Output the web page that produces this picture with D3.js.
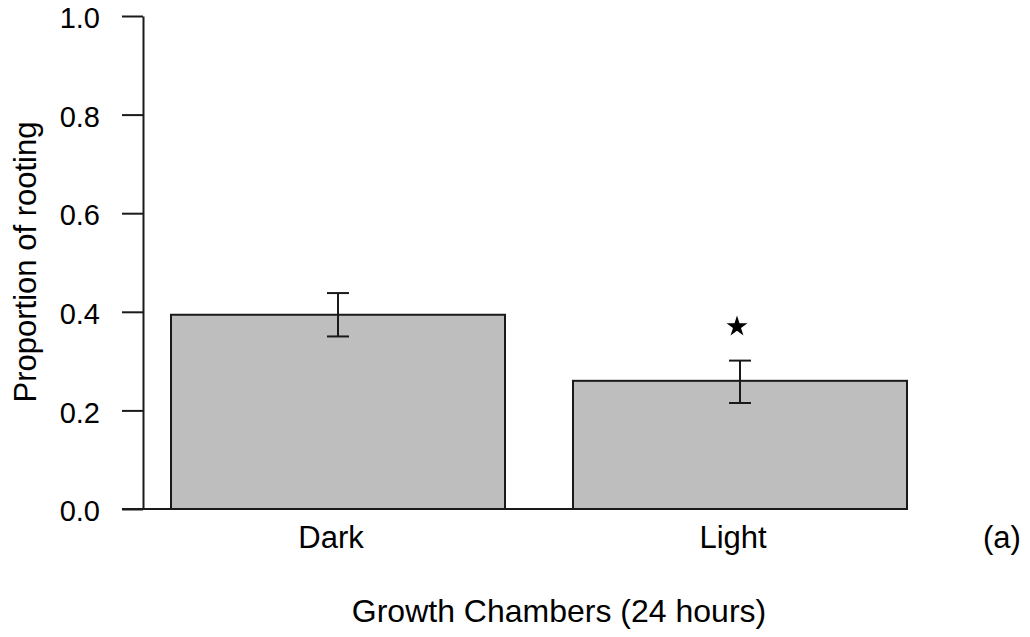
<!DOCTYPE html>
<html>
<head>
<meta charset="utf-8">
<script src="https://cdn.jsdelivr.net/npm/d3@7"></script>
<style>
  html, body { margin: 0; padding: 0; background: #fff; }
  svg { display: block; font-family: "Liberation Sans", Arial, sans-serif; }
</style>
</head>
<body>
<svg id="chart" width="1030" height="637"></svg>
<script>
const categories = ["Dark", "Light"];
const values = [0.394, 0.260];
const errLow = [0.350, 0.215];
const errHigh = [0.438, 0.301];
const significant = [false, true];
const yTicks = [0.0, 0.2, 0.4, 0.6, 0.8, 1.0];
const xTitle = "Growth Chambers (24 hours)";
const yTitle = "Proportion of rooting";
const panelLabel = "(a)";

const svg = d3.select("#chart");
const ink = "#1a1a1a";

const y = d3.scaleLinear().domain([0, 1]).range([509, 16]);
const x = d3.scaleBand().domain(categories).range([137, 941])
  .paddingInner(68 / 402).paddingOuter(34 / 402);

// bars
svg.append("g").selectAll("rect").data(categories).join("rect")
  .attr("x", d => x(d))
  .attr("y", (d, i) => y(values[i]))
  .attr("width", x.bandwidth())
  .attr("height", (d, i) => y(0) - y(values[i]))
  .attr("fill", "#bebebe")
  .attr("stroke", ink)
  .attr("stroke-width", 2);

// error bars
const eb = svg.append("g").attr("stroke", ink).attr("stroke-width", 2);
categories.forEach((c, i) => {
  const cx = x(c) + x.bandwidth() / 2;
  eb.append("line").attr("x1", cx).attr("x2", cx).attr("y1", y(errLow[i])).attr("y2", y(errHigh[i]));
  eb.append("line").attr("x1", cx - 11).attr("x2", cx + 11).attr("y1", y(errLow[i])).attr("y2", y(errLow[i]));
  eb.append("line").attr("x1", cx - 11).attr("x2", cx + 11).attr("y1", y(errHigh[i])).attr("y2", y(errHigh[i]));
});

// significance star
categories.forEach((c, i) => {
  if (!significant[i]) return;
  const cx = x(c) + x.bandwidth() / 2 - 3;
  svg.append("path")
    .attr("d", d3.symbol().type(d3.symbolStar).size(136)())
    .attr("transform", `translate(${cx},${y(errHigh[i]) - 34})`)
    .attr("fill", "#000");
});

// y axis
const yAxis = d3.axisLeft(y).tickValues(yTicks).tickFormat(d3.format(".1f"))
  .tickSize(21).tickSizeOuter(0).tickPadding(22);
const gy = svg.append("g").attr("transform", "translate(143,0)").call(yAxis);
gy.select(".domain").attr("stroke", ink).attr("stroke-width", 2);
gy.selectAll(".tick line").attr("stroke", ink).attr("stroke-width", 2);
gy.selectAll(".tick text").attr("font-size", 29).attr("fill", "#000")
  .attr("font-family", "Liberation Sans, Arial, sans-serif").attr("dy", "0.4em");

// baseline
svg.append("line")
  .attr("x1", 122).attr("x2", x(categories[categories.length - 1]) + x.bandwidth())
  .attr("y1", y(0)).attr("y2", y(0))
  .attr("stroke", ink).attr("stroke-width", 2);

// x axis labels
const xAxis = d3.axisBottom(x).tickSize(0).tickPadding(0);
const gx = svg.append("g").attr("transform", `translate(0,${y(0)})`).call(xAxis);
gx.select(".domain").remove();
gx.selectAll(".tick text").attr("font-size", 31).attr("fill", "#000")
  .attr("font-family", "Liberation Sans, Arial, sans-serif")
  .attr("x", -7).attr("y", 39).attr("dy", 0);

// panel label
svg.append("text").attr("x", 983).attr("y", 548).attr("font-size", 31).text(panelLabel);

// titles
svg.append("text").attr("x", 559).attr("y", 622).attr("text-anchor", "middle")
  .attr("font-size", 32).text(xTitle);
svg.append("text").attr("transform", "translate(36,262) rotate(-90)")
  .attr("text-anchor", "middle").attr("font-size", 31).text(yTitle);
</script>
</body>
</html>
